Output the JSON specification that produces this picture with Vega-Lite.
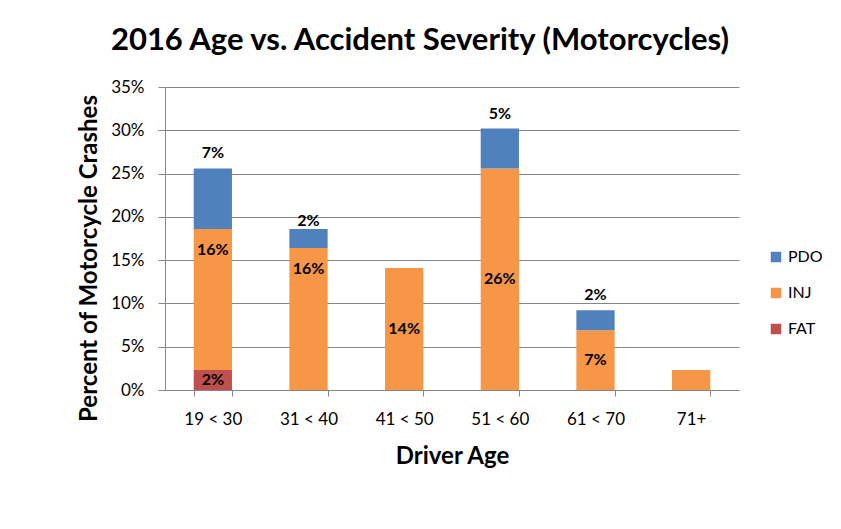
{
  "$schema": "https://vega.github.io/schema/vega-lite/v6.json",
  "width": 574,
  "height": 303,
  "autosize": {"type": "none"},
  "padding": {"left": 165, "top": 87, "right": 102, "bottom": 139},
  "background": "white",
  "title": {
    "text": "2016 Age vs. Accident Severity (Motorcycles)",
    "font": "Lato",
    "fontSize": 31,
    "fontWeight": "bold",
    "color": "black",
    "anchor": "middle",
    "dx": -32,
    "offset": 21
  },
  "data": {
    "values": [
      {"age": "19 < 30", "severity": "FAT", "value": 0.023},
      {"age": "19 < 30", "severity": "INJ", "value": 0.163},
      {"age": "19 < 30", "severity": "PDO", "value": 0.070},
      {"age": "31 < 40", "severity": "INJ", "value": 0.164},
      {"age": "31 < 40", "severity": "PDO", "value": 0.022},
      {"age": "41 < 50", "severity": "INJ", "value": 0.141},
      {"age": "51 < 60", "severity": "INJ", "value": 0.256},
      {"age": "51 < 60", "severity": "PDO", "value": 0.046},
      {"age": "61 < 70", "severity": "INJ", "value": 0.069},
      {"age": "61 < 70", "severity": "PDO", "value": 0.023},
      {"age": "71+", "severity": "INJ", "value": 0.023}
    ]
  },
  "transform": [
    {"stack": "value", "groupby": ["age"], "sort": [{"field": "severity", "order": "ascending"}], "as": ["v0", "v1"]},
    {"calculate": "(datum.v0 + datum.v1) / 2", "as": "mid"}
  ],
  "encoding": {
    "x": {
      "field": "age",
      "type": "nominal",
      "sort": null,
      "scale": {"paddingInner": 0.6, "paddingOuter": 0.3},
      "axis": {
        "title": "Driver Age",
        "labelAngle": 0,
        "tickBand": "extent",
        "tickSize": 6,
        "labelPadding": 15,
        "titleY": 54,
        "titleBaseline": "top",
        "titleFontSize": 24
      }
    }
  },
  "layer": [
    {
      "mark": {"type": "bar"},
      "encoding": {
        "y": {
          "field": "v0",
          "type": "quantitative",
          "scale": {"domain": [0, 0.35], "nice": false},
          "axis": {
            "title": "Percent of Motorcycle Crashes",
            "format": ".0%",
            "values": [0, 0.05, 0.1, 0.15, 0.2, 0.25, 0.3, 0.35],
            "grid": true,
            "tickSize": 7,
            "labelPadding": 14,
            "titleX": -64,
            "titleY": 171,
            "titleFontSize": 24
          }
        },
        "y2": {"field": "v1"},
        "color": {
          "field": "severity",
          "type": "nominal",
          "scale": {"domain": ["PDO", "INJ", "FAT"], "range": ["#4F81BD", "#F79646", "#C0504D"]},
          "legend": {
            "orient": "none",
            "legendX": 603,
            "legendY": 162,
            "title": null,
            "symbolType": "square",
            "symbolSize": 110,
            "symbolStrokeWidth": 0,
            "labelFont": "Lato",
            "labelFontSize": 16,
            "labelColor": "black",
            "rowPadding": 20
          }
        }
      }
    },
    {
      "transform": [{"filter": "datum.severity == 'FAT' || (datum.severity == 'INJ' && datum.age != '19 < 30' && datum.age != '31 < 40' && datum.age != '71+')"}],
      "mark": {"type": "text", "font": "Lato", "fontSize": 16, "fontWeight": "bold", "color": "black", "baseline": "middle"},
      "encoding": {
        "y": {"field": "mid", "type": "quantitative"},
        "text": {"field": "value", "type": "quantitative", "format": ".0%"}
      }
    },
    {
      "transform": [{"filter": "datum.severity == 'INJ' && (datum.age == '19 < 30' || datum.age == '31 < 40')"}],
      "mark": {"type": "text", "font": "Lato", "fontSize": 16, "fontWeight": "bold", "color": "black", "baseline": "middle", "dy": 21},
      "encoding": {
        "y": {"field": "v1", "type": "quantitative"},
        "text": {"field": "value", "type": "quantitative", "format": ".0%"}
      }
    },
    {
      "transform": [{"filter": "datum.severity == 'PDO' && datum.age != '31 < 40'"}],
      "mark": {"type": "text", "font": "Lato", "fontSize": 16, "fontWeight": "bold", "color": "black", "baseline": "middle", "dy": -15},
      "encoding": {
        "y": {"field": "v1", "type": "quantitative"},
        "text": {"field": "value", "type": "quantitative", "format": ".0%"}
      }
    },
    {
      "transform": [{"filter": "datum.severity == 'PDO' && datum.age == '31 < 40'"}],
      "mark": {"type": "text", "font": "Lato", "fontSize": 16, "fontWeight": "bold", "color": "black", "baseline": "middle", "dy": -8},
      "encoding": {
        "y": {"field": "v1", "type": "quantitative"},
        "text": {"field": "value", "type": "quantitative", "format": ".0%"}
      }
    }
  ],
  "config": {
    "view": {"stroke": null},
    "axis": {
      "labelFont": "Lato",
      "labelFontSize": 17,
      "labelColor": "black",
      "titleFont": "Lato",
      "titleFontSize": 21,
      "titleFontWeight": "bold",
      "titleColor": "black",
      "domainColor": "#868686",
      "tickColor": "#868686",
      "gridColor": "#868686"
    }
  }
}
